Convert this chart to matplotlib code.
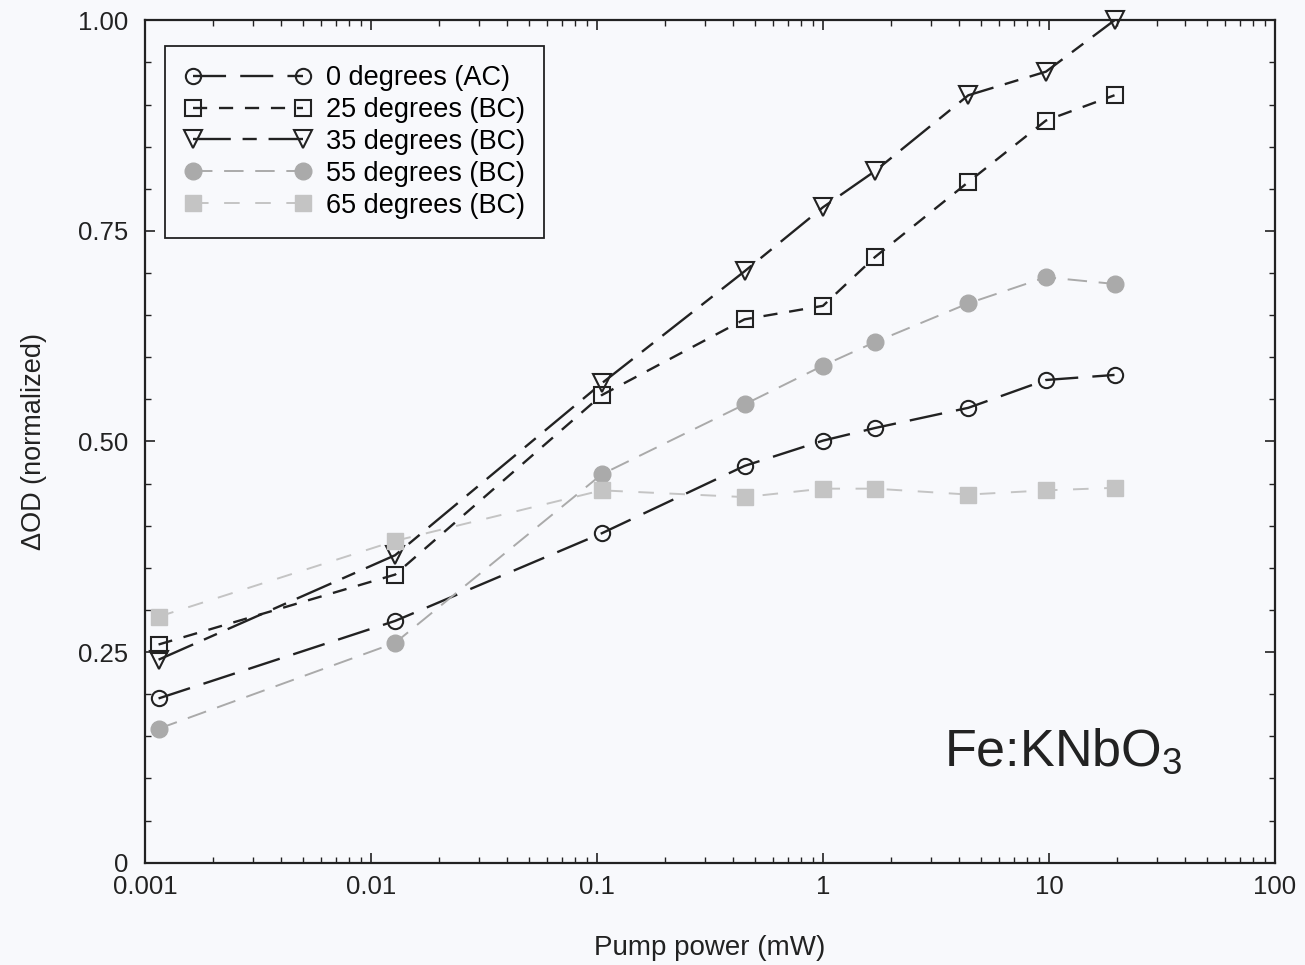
import matplotlib
matplotlib.use('Agg')
import matplotlib.pyplot as plt
from matplotlib.ticker import FixedLocator, MultipleLocator, LogLocator, NullFormatter

plt.rcParams['font.family'] = ['Liberation Sans', 'DejaVu Sans']
plt.rcParams['mathtext.fontset'] = 'custom'
plt.rcParams['mathtext.rm'] = 'Liberation Sans'

# Pump power (mW)
power = [0.00115, 0.0128, 0.105, 0.45, 1.0, 1.7, 4.4, 9.7, 19.5]

# Normalized delta OD per crystal angle
deg0 = [0.195, 0.287, 0.391, 0.471, 0.501, 0.516, 0.540, 0.573, 0.579]
deg25 = [0.259, 0.342, 0.555, 0.645, 0.661, 0.719, 0.808, 0.881, 0.911]
deg35 = [0.241, 0.365, 0.569, 0.702, 0.778, 0.821, 0.911, 0.939, 1.0]
deg55 = [0.159, 0.261, 0.461, 0.544, 0.590, 0.618, 0.664, 0.695, 0.687]
deg65 = [0.292, 0.382, 0.442, 0.434, 0.444, 0.444, 0.437, 0.442, 0.445]

fig = plt.figure(figsize=(13.05, 9.65), dpi=100)
fig.patch.set_facecolor('#f8f9fc')
ax = fig.add_axes([0.111, 0.106, 0.866, 0.873])
ax.set_facecolor('#f8f9fc')

ax.plot(power, deg0, color='#222222', lw=1.7, dashes=(14, 6), marker='o', ms=11,
        mfc='none', mec='#222222', mew=1.5, label='0 degrees (AC)', clip_on=False)
ax.plot(power, deg25, color='#222222', lw=1.7, dashes=(6, 5), marker='s', ms=12,
        mfc='none', mec='#222222', mew=1.5, label='25 degrees (BC)', clip_on=False)
ax.plot(power, deg35, color='#222222', lw=1.7, dashes=(16, 5, 6, 5), marker='v', ms=13,
        mfc='none', mec='#222222', mew=1.5, label='35 degrees (BC)', clip_on=False)
ax.plot(power, deg55, color='#aaaaaa', lw=1.4, dashes=(10, 6), marker='o', ms=12,
        mfc='#aaaaaa', mec='#aaaaaa', label='55 degrees (BC)', clip_on=False)
ax.plot(power, deg65, color='#c4c4c4', lw=1.4, dashes=(8, 8), marker='s', ms=12,
        mfc='#c4c4c4', mec='#c4c4c4', label='65 degrees (BC)', clip_on=False)

ax.set_xscale('log')
ax.set_xlim(0.001, 100)
ax.set_ylim(0, 1.0)
ax.xaxis.set_major_locator(FixedLocator([0.001, 0.01, 0.1, 1, 10, 100]))
ax.set_xticklabels(['0.001', '0.01', '0.1', '1', '10', '100'])
ax.xaxis.set_minor_locator(LogLocator(base=10, subs=range(2, 10)))
ax.xaxis.set_minor_formatter(NullFormatter())
ax.yaxis.set_major_locator(FixedLocator([0, 0.25, 0.5, 0.75, 1.0]))
ax.set_yticklabels(['0', '0.25', '0.50', '0.75', '1.00'])
ax.yaxis.set_minor_locator(MultipleLocator(0.05))

ax.tick_params(which='both', direction='in', top=True, right=True, labelsize=18.5,
               colors='#222222')
ax.tick_params(which='major', length=7, width=1.2)
ax.tick_params(which='minor', length=4, width=1.0)
ax.tick_params(axis='x', which='major', pad=9)
ax.tick_params(axis='y', which='major', pad=12)
for s in ax.spines.values():
    s.set_linewidth(1.6)
    s.set_color('#222222')

ax.set_xlabel('Pump power (mW)', fontsize=20, color='#222222', labelpad=26)
ax.set_ylabel('\u0394OD (normalized)', fontsize=19.5, color='#222222', labelpad=22)

ax.text(0.813, 0.132, 'Fe:KNbO$_3$', transform=ax.transAxes, fontsize=37.5,
        ha='center', va='center', color='#222222')

leg = ax.legend(loc='upper left', bbox_to_anchor=(0.018, 0.97), numpoints=2,
                handlelength=4.65, fontsize=19.5, frameon=True, fancybox=False,
                borderpad=0.72, labelspacing=0.22, handletextpad=0.55,
                borderaxespad=0)
leg.get_frame().set_edgecolor('#222222')
leg.get_frame().set_linewidth(1.3)
leg.get_frame().set_facecolor('#f8f9fc')
leg.get_frame().set_alpha(1)

plt.savefig('out.png', dpi=100, facecolor=fig.get_facecolor())
